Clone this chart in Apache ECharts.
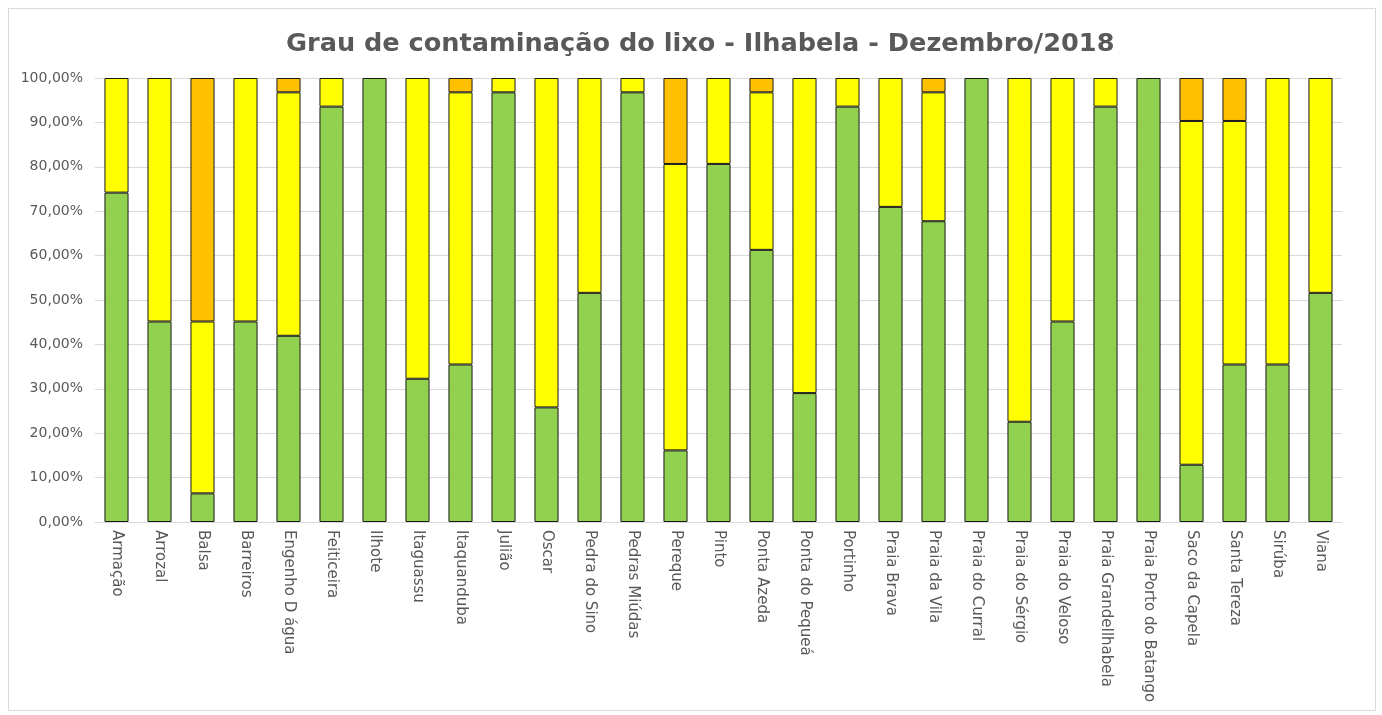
<!DOCTYPE html>
<html>
<head>
<meta charset="utf-8">
<script src="https://cdn.jsdelivr.net/npm/echarts@6/dist/echarts.min.js"></script>
<style>
  html, body { margin: 0; padding: 0; background: #fff; }
  #frame { position: absolute; left: 8px; top: 8px; width: 1368px; height: 703px; border: 1px solid #d9d9d9; box-sizing: border-box; }
  #chart { position: absolute; left: 0; top: 0; width: 1382px; height: 715px; }
</style>
</head>
<body>
<div id="frame"></div>
<div id="chart"></div>
<script>
var categorias = ['Armação','Arrozal','Balsa','Barreiros','Engenho D água','Feiticeira','Ilhote','Itaguassu','Itaquanduba','Julião','Oscar','Pedra do Sino','Pedras Miúdas','Pereque','Pinto','Ponta Azeda','Ponta do Pequeá','Portinho','Praia Brava','Praia da Vila','Praia do Curral','Praia do Sérgio','Praia do Veloso','Praia GrandeIlhabela','Praia Porto do Batango','Saco da Capela','Santa Tereza','Sirúba','Viana'];

// percentuais por faixa (verde / amarelo / laranja)
var verde    = [74.19, 45.16,  6.45, 45.16, 41.94, 93.55, 100, 32.26, 35.48, 96.77, 25.81, 51.61, 96.77, 16.13, 80.65, 61.29, 29.03, 93.55, 70.97, 67.74, 100, 22.58, 45.16, 93.55, 100, 12.90, 35.48, 35.48, 51.61];
var amarelo  = [25.81, 54.84, 38.71, 54.84, 54.83,  6.45,   0, 67.74, 61.29,  3.23, 74.19, 48.39,  3.23, 64.51, 19.35, 35.48, 70.97,  6.45, 29.03, 29.03,   0, 77.42, 54.84,  6.45,   0, 77.42, 54.84, 64.52, 48.39];
var laranja  = [    0,     0, 54.84,     0,  3.23,     0,   0,     0,  3.23,     0,     0,     0,     0, 19.36,     0,  3.23,     0,     0,     0,  3.23,   0,     0,     0,     0,   0,  9.68,  9.68,     0,     0];

var fonte = 'DejaVu Sans';
var myChart = echarts.init(document.getElementById('chart'));

function serie(nome, dados, cor){
    return {
        name: nome,
        type: 'bar',
        stack: 'total',
        barWidth: '56%',
        itemStyle: { color: cor, borderColor: '#1a1a1a', borderWidth: 1 },
        // zeros ficam vazios para nao desenhar borda extra
        data: dados.map(function(v){ return v === 0 ? '-' : v; })
    };
}

myChart.setOption({
    animation: false,
    title: {
        text: 'Grau de contaminação do lixo - Ilhabela - Dezembro/2018',
        left: 281,
        top: 26,
        textStyle: { color: '#595959', fontSize: 25.6, fontWeight: 'bold', fontFamily: fonte }
    },
    grid: { left: 95, right: 40, top: 78, bottom: 193 },
    xAxis: {
        type: 'category',
        data: categorias,
        axisTick: { show: false },
        axisLine: { lineStyle: { color: '#d9d9d9' } },
        axisLabel: {
            rotate: -90,
            interval: 0,
            margin: 8,
            color: '#595959',
            fontSize: 15,
            fontFamily: fonte
        }
    },
    yAxis: {
        type: 'value',
        min: 0,
        max: 100,
        interval: 10,
        axisLine: { show: false },
        axisTick: { show: false },
        splitLine: { lineStyle: { color: '#d9d9d9' } },
        axisLabel: {
            color: '#595959',
            fontSize: 14,
            margin: 12,
            fontFamily: fonte,
            formatter: function(v){ return v.toFixed(2).replace('.', ',') + '%'; }
        }
    },
    series: [
        serie('Verde', verde, '#92d050'),
        serie('Amarelo', amarelo, '#ffff00'),
        serie('Laranja', laranja, '#ffc000')
    ]
});
</script>
</body>
</html>
